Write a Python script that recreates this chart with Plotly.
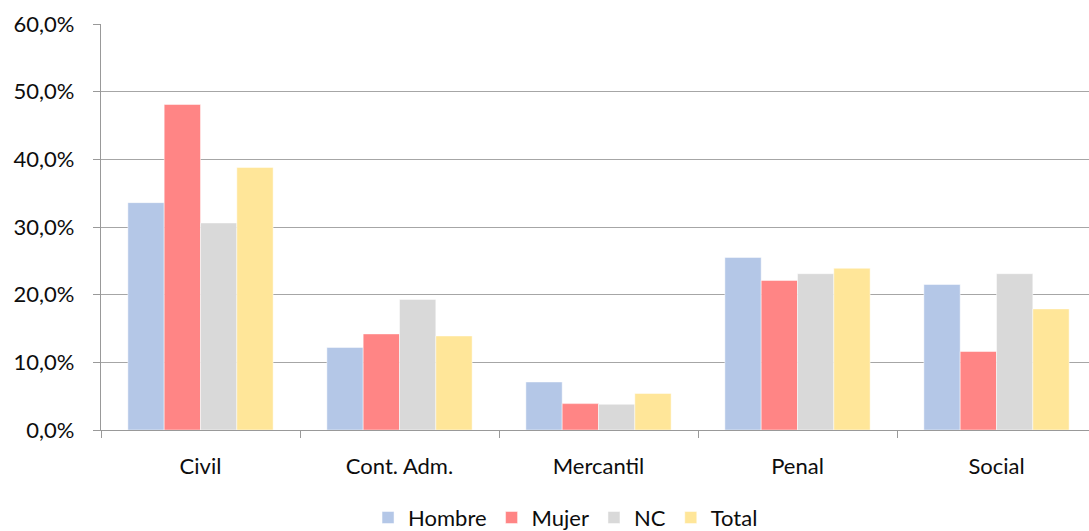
import plotly.graph_objects as go

categories = ["Civil", "Cont. Adm.", "Mercantil", "Penal", "Social"]
hombre = [0.336, 0.122, 0.071, 0.255, 0.215]
mujer = [0.481, 0.142, 0.039, 0.221, 0.116]
nc = [0.306, 0.193, 0.038, 0.231, 0.231]
total = [0.388, 0.139, 0.054, 0.239, 0.179]

series = [
    ("Hombre", hombre, "#B4C7E7"),
    ("Mujer", mujer, "#FF8585"),
    ("NC", nc, "#D9D9D9"),
    ("Total", total, "#FFE699"),
]

FONT = "Lato, Carlito, Calibri, sans-serif"
TXT = "#0d0d0d"

fig = go.Figure()
for name, vals, color in series:
    fig.add_trace(go.Bar(
        x=categories, y=vals, name=name,
        marker=dict(color=color, line=dict(color="rgba(255,255,255,0.6)", width=0.8)),
    ))

fig.update_layout(
    width=1096, height=531,
    margin=dict(l=101, r=0, t=24, b=101, autoexpand=False),
    paper_bgcolor="white", plot_bgcolor="white",
    barmode="group", bargap=0.27, bargroupgap=0,
    separators=",.",
    font=dict(family=FONT, size=22, color=TXT),
    showlegend=True,
    legend=dict(
        orientation="h", xref="container", yref="container",
        x=0.516, xanchor="center", y=0.025, yanchor="middle",
        font=dict(family=FONT, size=22, color=TXT),
        itemwidth=30, tracegroupgap=0,
    ),
    xaxis=dict(
        showline=True, linecolor="#999999", linewidth=1.3,
        ticks="outside", tickson="boundaries", ticklen=7, tickcolor="#999999",
        ticklabelstandoff=16, showgrid=False, automargin=False,
    ),
    yaxis=dict(
        range=[0, 0.6], dtick=0.1, tickformat=".1%",
        showline=True, linecolor="#999999", linewidth=1.3,
        ticks="outside", ticklen=7, tickcolor="#999999",
        showgrid=True, gridcolor="#A6A6A6", gridwidth=1.3,
        zeroline=False, ticklabelstandoff=14, automargin=False,
    ),
)

fig.write_html(
    "out.html",
    config={"displayModeBar": False},
    post_script="document.body.style.margin='0';document.body.style.overflow='hidden';",
)
